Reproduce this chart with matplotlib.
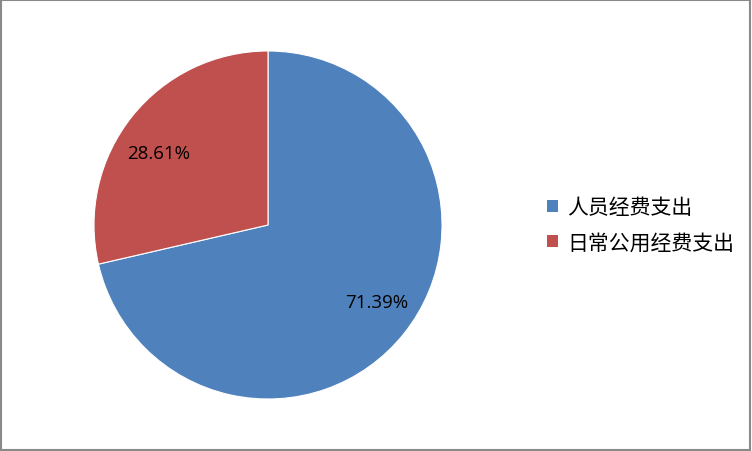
import matplotlib
matplotlib.use('Agg')
import matplotlib.pyplot as plt
from matplotlib.patches import Rectangle

plt.rcParams['font.family'] = ['Noto Sans CJK SC', 'DejaVu Sans']

labels = ['人员经费支出', '日常公用经费支出']
values = [71.39, 28.61]
colors = ['#4F81BD', '#C0504D']

fig = plt.figure(figsize=(7.52, 4.52), dpi=100)
ax = fig.add_axes([0.125, 0.115, 0.4628, 0.77])

wedges, texts, autotexts = ax.pie(values, colors=colors, startangle=90,
                                  counterclock=False, autopct='%.2f%%',
                                  pctdistance=0.75,
                                  wedgeprops=dict(edgecolor='white', linewidth=0.8),
                                  textprops=dict(fontsize=13.5, color='black',
                                                 family=['Open Sans', 'DejaVu Sans']))
# Excel-style label placement
autotexts[0].set_position((0.625, -0.44))
autotexts[1].set_position((-0.63, 0.415))
ax.set_xlim(-1, 1)
ax.set_ylim(-1, 1)
ax.set_aspect('equal')

leg = fig.legend(wedges, labels, loc='center left',
                 bbox_to_anchor=(0.703, 0.5), frameon=False,
                 fontsize=15, handlelength=0.5, handleheight=0.5,
                 handletextpad=0.45, labelspacing=0.65)
for h in leg.legend_handles:
    h.set_edgecolor('none')

fig.patches.append(Rectangle((0.001, 0.002), 0.997, 0.996,
                             transform=fig.transFigure, fill=False,
                             edgecolor='#898989', linewidth=1.5))

fig.savefig('out.png', dpi=100)
